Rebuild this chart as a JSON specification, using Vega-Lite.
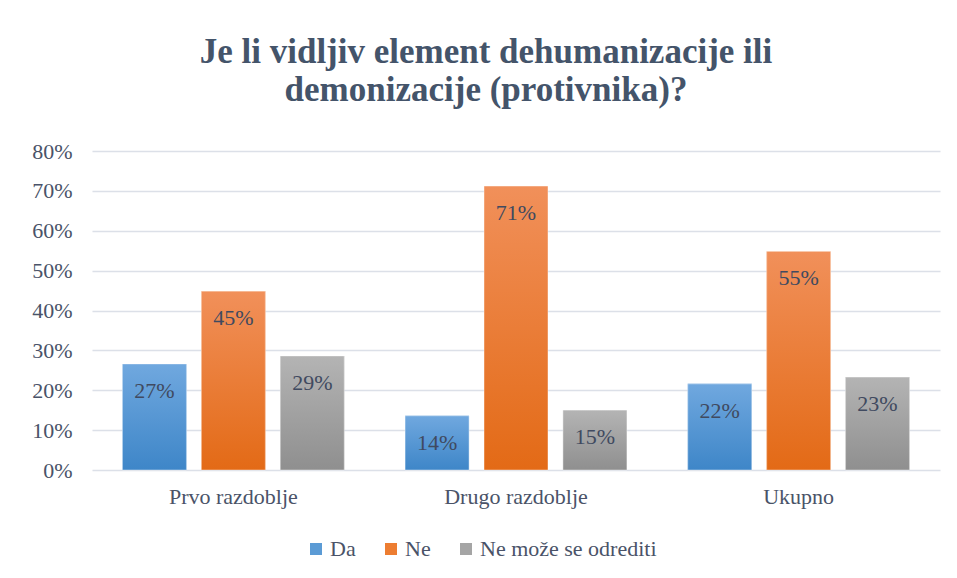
{
  "$schema": "https://vega.github.io/schema/vega-lite/v6.json",
  "autosize": {"type": "none"},
  "width": 848,
  "height": 319,
  "padding": {"left": 92, "top": 151, "right": 17, "bottom": 108},
  "background": "white",
  "config": {
    "font": "Liberation Serif",
    "view": {"stroke": null},
    "title": {"font": "Liberation Serif"},
    "legend": {"labelFont": "Liberation Serif"},
    "axis": {"labelFont": "Liberation Serif"}
  },
  "title": {
    "text": ["Je li vidljiv element dehumanizacije  ili", "demonizacije (protivnika)?"],
    "font": "Liberation Serif",
    "fontSize": 35,
    "fontWeight": "bold",
    "color": "#44546A",
    "anchor": "middle",
    "frame": "group",
    "dx": -30,
    "baseline": "alphabetic",
    "lineHeight": 38,
    "offset": 4
  },
  "data": {
    "values": [
      {"period": "Prvo razdoblje", "s": "Da", "v": 0.266},
      {"period": "Prvo razdoblje", "s": "Ne", "v": 0.448},
      {"period": "Prvo razdoblje", "s": "Ne može se odrediti", "v": 0.286},
      {"period": "Drugo razdoblje", "s": "Da", "v": 0.136},
      {"period": "Drugo razdoblje", "s": "Ne", "v": 0.712},
      {"period": "Drugo razdoblje", "s": "Ne može se odrediti", "v": 0.150},
      {"period": "Ukupno", "s": "Da", "v": 0.216},
      {"period": "Ukupno", "s": "Ne", "v": 0.548},
      {"period": "Ukupno", "s": "Ne može se odrediti", "v": 0.233}
    ]
  },
  "encoding": {
    "x": {
      "field": "period", "type": "nominal", "sort": null,
      "scale": {"paddingInner": 0.2155, "paddingOuter": 0.108},
      "axis": {"title": null, "labelAngle": 0, "ticks": false, "domain": false, "labelFontSize": 22, "labelColor": "#4A5368", "labelPadding": 16, "labelFont": "Liberation Serif"}
    },
    "xOffset": {
      "field": "s", "type": "nominal",
      "scale": {"domain": ["Da", "Ne", "Ne može se odrediti"], "paddingInner": 0.19, "paddingOuter": 0}
    },
    "y": {
      "field": "v", "type": "quantitative",
      "scale": {"domain": [0, 0.8], "nice": false},
      "axis": {"title": null, "format": ".0%", "values": [0, 0.1, 0.2, 0.3, 0.4, 0.5, 0.6, 0.7, 0.8], "ticks": false, "domain": false, "labelFontSize": 22, "labelColor": "#4A5368", "labelPadding": 20, "gridColor": "#DCE0E8", "gridWidth": 1.5, "labelFont": "Liberation Serif"}
    }
  },
  "layer": [
    {
      "mark": {"type": "bar"},
      "encoding": {
        "color": {
          "field": "s", "type": "nominal",
          "scale": {"domain": ["Da", "Ne", "Ne može se odrediti"], "range": ["#5B9BD5", "#ED7D31", "#A5A5A5"]},
          "legend": {
            "title": null, "orient": "none", "direction": "horizontal",
            "legendX": 213, "legendY": 387,
            "symbolType": "square", "symbolSize": 144, "symbolStrokeWidth": 0,
            "labelFontSize": 22, "labelColor": "#4A5368", "labelFont": "Liberation Serif",
            "labelLimit": 400, "labelOffset": 3, "columnPadding": 24
          }
        }
      }
    },
    {
      "transform": [{"filter": "datum.s === 'Da'"}],
      "mark": {"type": "bar", "stroke": "#FFFFFF", "strokeOpacity": 0.4, "strokeWidth": 1,
        "color": {"gradient": "linear", "x1": 0, "y1": 0, "x2": 0, "y2": 1,
          "stops": [{"offset": 0, "color": "#70A8DF"}, {"offset": 1, "color": "#3E86C8"}]}}
    },
    {
      "transform": [{"filter": "datum.s === 'Ne'"}],
      "mark": {"type": "bar", "stroke": "#FFFFFF", "strokeOpacity": 0.4, "strokeWidth": 1,
        "color": {"gradient": "linear", "x1": 0, "y1": 0, "x2": 0, "y2": 1,
          "stops": [{"offset": 0, "color": "#F1905A"}, {"offset": 1, "color": "#E36A16"}]}}
    },
    {
      "transform": [{"filter": "datum.s === 'Ne može se odrediti'"}],
      "mark": {"type": "bar", "stroke": "#FFFFFF", "strokeOpacity": 0.4, "strokeWidth": 1,
        "color": {"gradient": "linear", "x1": 0, "y1": 0, "x2": 0, "y2": 1,
          "stops": [{"offset": 0, "color": "#B4B4B4"}, {"offset": 1, "color": "#8F8F8F"}]}}
    },
    {
      "mark": {"type": "text", "baseline": "alphabetic", "dy": 34, "fontSize": 22, "font": "Liberation Serif", "color": "#404A60"},
      "encoding": {
        "text": {"field": "v", "type": "quantitative", "format": ".0%"}
      }
    }
  ]
}
